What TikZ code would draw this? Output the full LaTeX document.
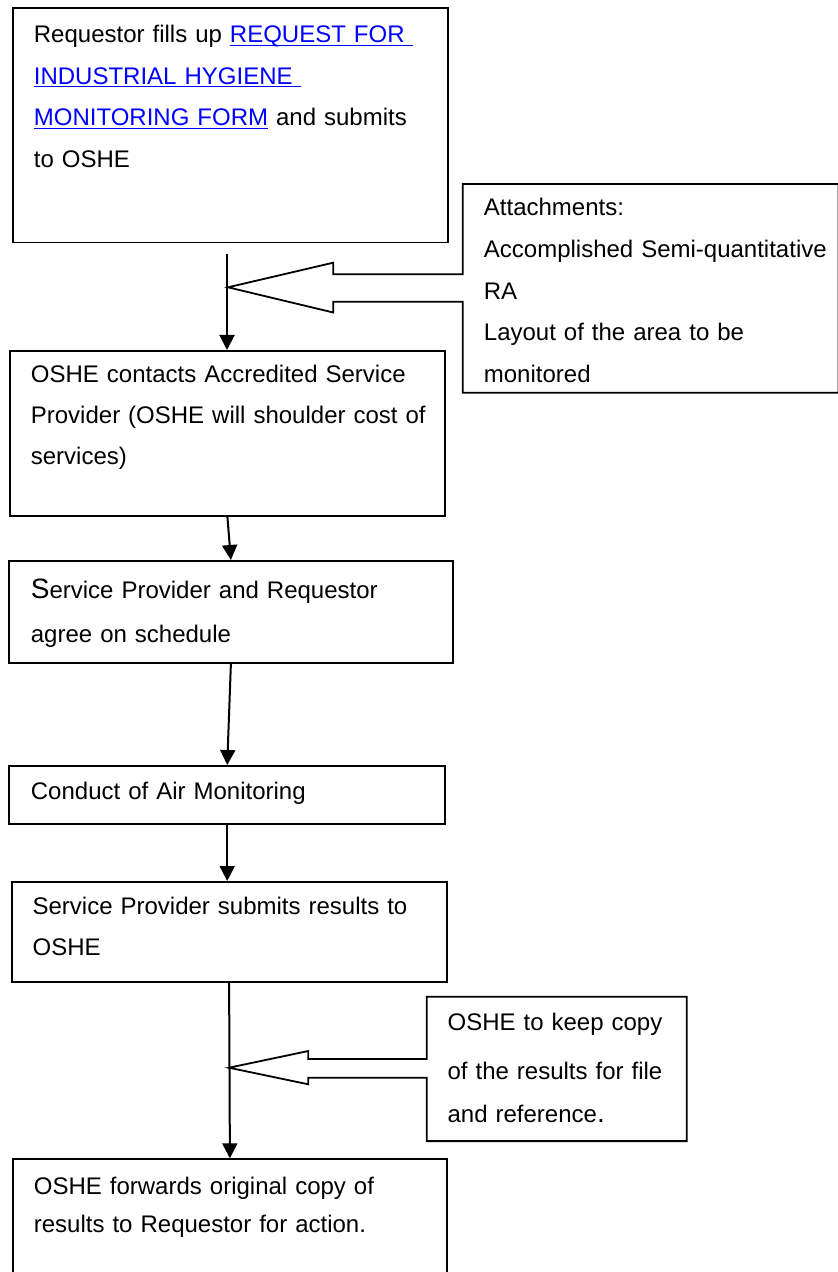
\documentclass[tikz,border=0pt]{standalone}
\usepackage{fontspec}
\setmainfont{Liberation Sans}
\usetikzlibrary{arrows.meta}
\definecolor{linkblue}{rgb}{0,0,1}
\newcommand{\formlink}[1]{\textcolor{linkblue}{\setbox0=\hbox{#1}\rlap{\rule[-1.6pt]{\wd0}{0.6pt}}\box0}}

\begin{document}
\begin{tikzpicture}[x=0.5pt, y=-0.5pt,
  flowbox/.style={draw, line width=0.9pt, anchor=north west, inner ysep=0pt, align=left, font=\fontsize{12}{20.8}\selectfont},
  flow/.style={line width=1pt, -{Triangle[length=7.5pt,width=7.5pt]}},
  callout/.style={line width=0.9pt, line join=miter}]
\useasboundingbox (0,0) rectangle (838,1272);
\clip (0,0) rectangle (838,1272);

% steps
\node[flowbox, inner xsep=10.35pt, text width=196.65pt, text height=17.2pt, text depth=100pt] (req) at (12.3,7.3)
  {\mbox{Requestor fills up \formlink{REQUEST FOR }}\\ \formlink{INDUSTRIAL HYGIENE }\\ \mbox{\formlink{MONITORING FORM} and submits}\\ to OSHE};
\node[flowbox, inner xsep=10.5pt, text width=196.5pt, text height=15.85pt, text depth=66.65pt, font=\fontsize{12}{20.4}\selectfont] (contact) at (9,350)
  {\mbox{OSHE contacts Accredited Service}\\ \mbox{Provider (OSHE will shoulder cost of}\\ services)};
\node[flowbox, inner xsep=10.85pt, text width=200pt, text height=19pt, text depth=31.85pt, font=\fontsize{12}{21.85}\selectfont] (agree) at (8.3,560)
  {\mbox{{\fontsize{14}{14}\selectfont S}ervice Provider and Requestor}\\ agree on schedule};
\node[flowbox, inner xsep=10.85pt, text width=196.3pt, text height=16.65pt, text depth=12.5pt] (conduct) at (8.3,765)
  {Conduct of Air Monitoring};
\node[flowbox, inner xsep=10.5pt, text width=196.5pt, text height=16.15pt, text depth=33.85pt, font=\fontsize{12}{20.85}\selectfont] (submit) at (10.7,881)
  {\mbox{Service Provider submits results to}\\ OSHE};
\node[flowbox, inner xsep=10.35pt, text width=196pt, text height=17.5pt, text depth=60pt, font=\fontsize{12}{19.2}\selectfont] (forward) at (12.3,1158.3)
  {\mbox{OSHE forwards original copy of}\\ \mbox{results to Requestor for action.}};

% side notes
\node[flowbox, draw=none, inner xsep=10.15pt, text width=166.7pt, text height=15.5pt, text depth=88pt] (attach) at (462.7,184)
  {Attachments:\\ \mbox{Accomplished Semi-quantitative}\\ RA\\ \mbox{Layout of the area to be}\\ monitored};
\node[flowbox, draw=none, inner xsep=10pt, text width=109.15pt, text height=16.65pt, text depth=54.65pt, font=\fontsize{12}{21.7}\selectfont] (keep) at (426.7,996.7)
  {\mbox{OSHE to keep copy}\\[2.4pt] \mbox{of the results for file}\\ \mbox{and reference{\fontsize{14}{14}\selectfont .}}};

% arrows
\coordinate (top1) at (227,254);
\coordinate (tip1) at (228,287.3);
\coordinate (tip2) at (229,1067.7);
\draw[flow] (top1) -- (top1 |- contact.north);
\draw[flow] (contact.south) -- (agree.north);
\draw[flow] (agree.south) -- (conduct.north);
\draw[flow] (conduct.south) -- (conduct.south |- submit.north);
\draw[flow] (submit.south) -- (forward.north);

% callout outlines
\draw[callout] (attach.north west) -- (attach.north east) -- (attach.south east) -- (attach.south west)
  -- (attach.west |- 0,301.7) -- (333.3,301.7) -- (333.3,312.5) -- (tip1) -- (333.3,262.7) -- (333.3,274.3)
  -- (attach.west |- 0,274.3) -- cycle;
\draw[callout] (keep.north west) -- (keep.north east) -- (keep.south east) -- (keep.south west)
  -- (keep.west |- 0,1077.7) -- (308.3,1077.7) -- (308.3,1084.3) -- (tip2) -- (308.3,1051) -- (308.3,1059)
  -- (keep.west |- 0,1059) -- cycle;
\end{tikzpicture}
\end{document}
